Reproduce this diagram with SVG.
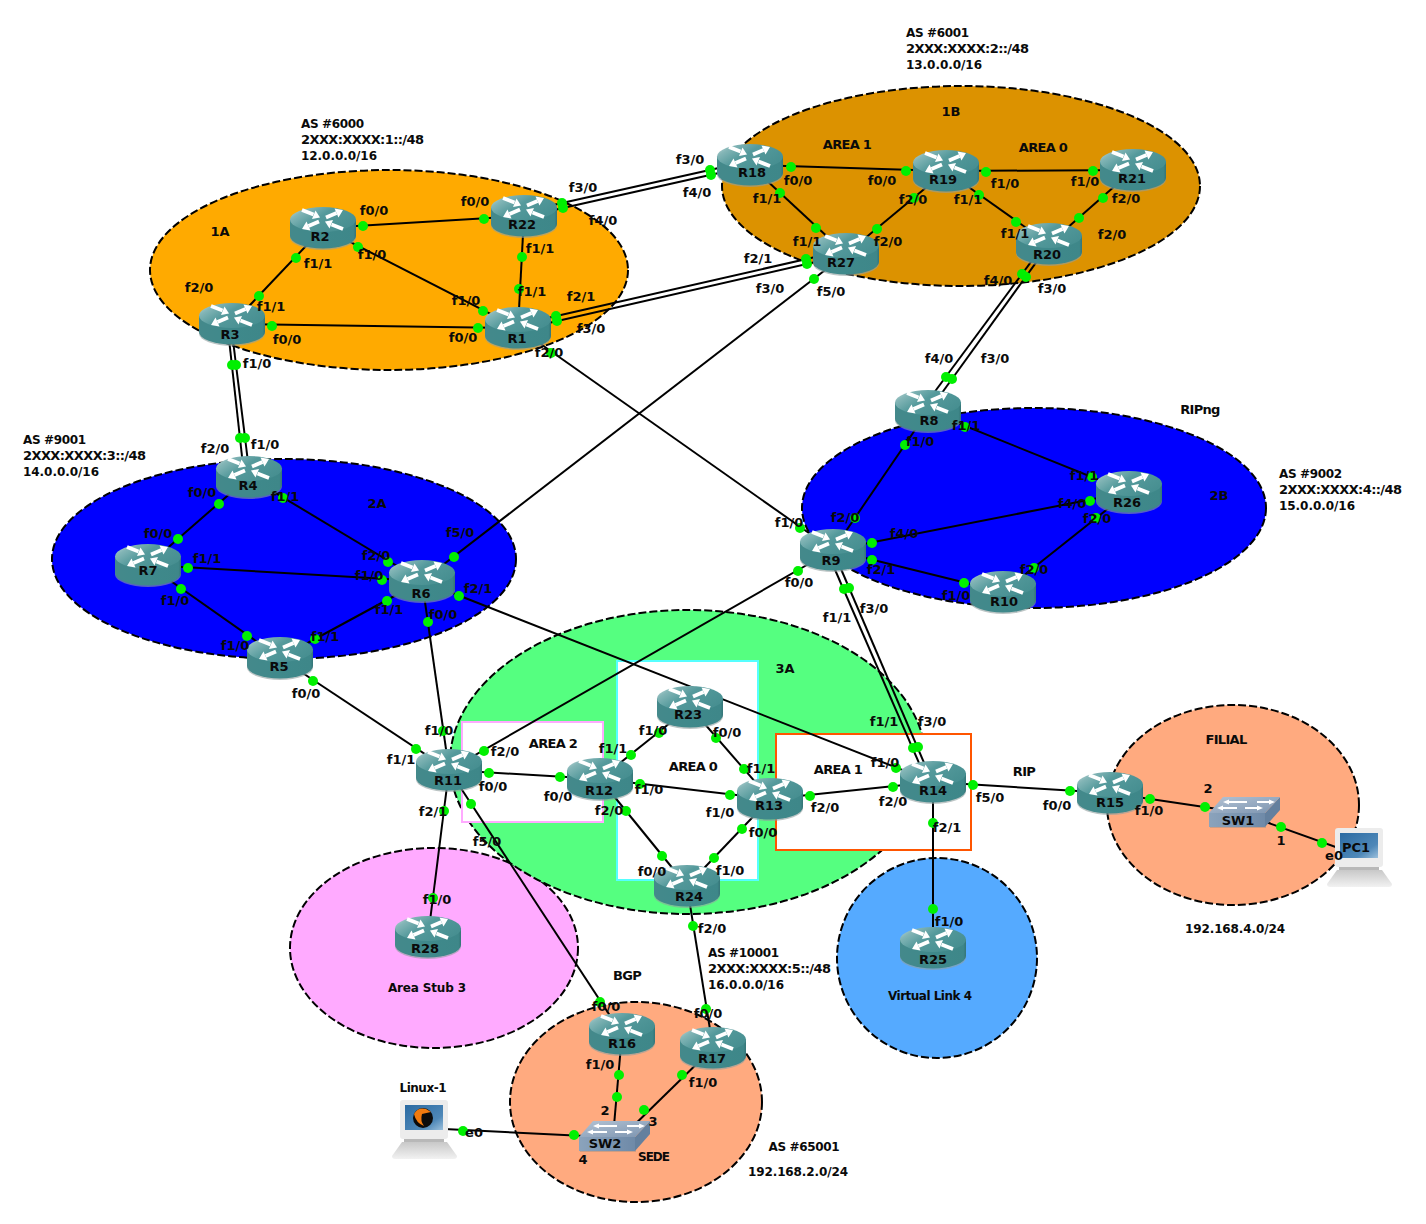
<svg xmlns="http://www.w3.org/2000/svg" xmlns:xlink="http://www.w3.org/1999/xlink" width="1426" height="1224" viewBox="0 0 1426 1224">
<style>
text{font-family:"DejaVu Sans","Liberation Sans",sans-serif;font-weight:700;font-size:13px;fill:#0a0a0a;text-anchor:middle}
text.s{text-anchor:start}
text.m{font-size:12px}
.cap{letter-spacing:-.7px}
.area{stroke:#000;stroke-width:2;stroke-dasharray:8 3}
#links line{stroke:#000;stroke-width:2}
#dots circle{fill:#00f000;stroke:none}
.box{fill:#fff;stroke-width:2}
</style>
<defs>
<linearGradient id="rt" x1="0" y1="0" x2="1" y2=".6"><stop offset="0" stop-color="#c8dede"/><stop offset=".22" stop-color="#83b5b6"/><stop offset=".5" stop-color="#559a9c"/><stop offset="1" stop-color="#478f91"/></linearGradient>
<linearGradient id="rb" x1="0" y1="0" x2="1" y2="0"><stop offset="0" stop-color="#44898b"/><stop offset=".5" stop-color="#3f898b"/><stop offset=".96" stop-color="#3e8789"/><stop offset="1" stop-color="#357577"/></linearGradient>
<linearGradient id="st" x1="0" y1="0" x2="1" y2="1"><stop offset="0" stop-color="#b4c3d4"/><stop offset="1" stop-color="#7c94b0"/></linearGradient>
<linearGradient id="sf" x1="0" y1="0" x2="1" y2="0"><stop offset="0" stop-color="#8ba3bc"/><stop offset="1" stop-color="#6f8aa8"/></linearGradient>
<linearGradient id="scr" x1="0" y1="0" x2="1" y2="1"><stop offset="0" stop-color="#2a6aa2"/><stop offset=".7" stop-color="#4f88b8"/><stop offset="1" stop-color="#9cc0dc"/></linearGradient>
<linearGradient id="kb" x1="0" y1="0" x2="0" y2="1"><stop offset="0" stop-color="#c8c8c8"/><stop offset="1" stop-color="#f2f2f2"/></linearGradient>
<g id="router">
<path d="M0,14V30.500A33,12.500 0 0 0 66,30.500V14Z" fill="#8f9f9f" opacity=".6"/>
<path d="M0,12.500V29A33,12.500 0 0 0 66,29V12.500Z" fill="url(#rb)"/>
<ellipse cx="33" cy="12.500" rx="33" ry="12.500" fill="url(#rt)"/>
<g fill="#fff" stroke="#fff">
<path d="M36,10.500L46.500,6" stroke-width="3.800"/><path d="M53,3L48.500,10.500L44.500,1.500Z" stroke="none"/>
<path d="M29,14.500L18.500,19" stroke-width="3.800"/><path d="M12,22L16.500,14.500L20.500,23.500Z" stroke="none"/>
<path d="M12,3L23.500,7.500" stroke-width="3.800"/><path d="M30,10.500L22,12L25.500,3.500Z" stroke="none"/>
<path d="M53,22L41.500,17.500" stroke-width="3.800"/><path d="M35,14.500L43,13L39.500,21.500Z" stroke="none"/>
</g>
</g>
<g id="switch">
<path d="M1,18H57V31H1Z" fill="#a08f85" opacity=".5"/>
<path d="M0,16H56V30H0Z" fill="url(#sf)"/>
<path d="M56,16L71,0V13L56,30Z" fill="#64809e"/>
<path d="M0,16L14,0H71L56,16Z" fill="url(#st)"/>
<g stroke="#fff" stroke-width="1.800" fill="#fff">
<path d="M18,5H38M48,5H62" fill="none"/><path d="M12,11H28M36,11H50" fill="none"/>
<path d="M14,5L20,2.500V7.500Z" stroke="none"/><path d="M66,5L60,2.500V7.500Z" stroke="none"/>
<path d="M8,11L14,8.500V13.500Z" stroke="none"/><path d="M54,11L48,8.500V13.500Z" stroke="none"/>
</g>
</g>
<g id="computer">
<rect x="8" y="0" width="48" height="39" rx="3" fill="#ececec"/>
<rect x="13" y="5" width="38" height="25" fill="url(#scr)"/>
<rect x="12" y="39" width="40" height="3" fill="#b8b8b8"/>
<path d="M10,42H55L65,56Q65,59 62,59H3Q0,59 0,56Z" fill="url(#kb)"/>
</g>
</defs>
<rect width="1426" height="1224" fill="#fff"/>
<g id="areas">
<ellipse class="area" cx="389" cy="270" rx="239" ry="100" fill="#ffaa00"/>
<ellipse class="area" cx="961" cy="186" rx="239" ry="100" fill="#dc9200"/>
<ellipse class="area" cx="284" cy="559" rx="232" ry="100" fill="#0000ff"/>
<ellipse class="area" cx="1034" cy="508" rx="232" ry="100" fill="#0000ff"/>
<ellipse class="area" cx="434" cy="948" rx="144" ry="100" fill="#ffaaff"/>
<ellipse class="area" cx="688" cy="762" rx="238" ry="152" fill="#55ff80"/>
<ellipse class="area" cx="937" cy="958" rx="100" ry="100" fill="#55aaff"/>
<ellipse class="area" cx="1233" cy="805" rx="126" ry="100" fill="#ffaa7f"/>
<ellipse class="area" cx="636" cy="1102" rx="126" ry="100" fill="#ffaa7f"/>
<rect class="box" x="462" y="722" width="141" height="100" stroke="#ffaaff"/>
<rect class="box" x="617" y="661" width="141" height="219" stroke="#55ffff"/>
<rect class="box" x="776" y="734" width="195" height="116" stroke="#ff5500"/>
</g>
<g id="links">
<line x1="323" y1="228" x2="524" y2="216"/><line x1="323" y1="228" x2="232" y2="324"/><line x1="323" y1="228" x2="518" y2="328"/><line x1="524" y1="216" x2="518" y2="328"/><line x1="232" y1="324" x2="518" y2="328"/>
<line x1="524" y1="211.500" x2="750" y2="161"/><line x1="524" y1="216.700" x2="750" y2="166"/>
<line x1="518" y1="324.700" x2="846" y2="250"/><line x1="518" y1="330" x2="846" y2="255"/>
<line x1="228" y1="330" x2="243.500" y2="470"/><line x1="231.700" y1="330" x2="249" y2="470"/>
<line x1="1045" y1="243" x2="919" y2="413"/><line x1="1048" y1="246" x2="926" y2="415"/>
<line x1="826" y1="549" x2="926.400" y2="780"/><line x1="832" y1="548" x2="931" y2="779"/>
<line x1="518" y1="328" x2="833" y2="550"/><line x1="846" y1="254" x2="422" y2="581"/>
<line x1="750" y1="165" x2="946" y2="171"/><line x1="946" y1="171" x2="1133" y2="170"/><line x1="750" y1="165" x2="846" y2="254"/><line x1="946" y1="171" x2="846" y2="254"/><line x1="946" y1="171" x2="1049" y2="244"/><line x1="1133" y1="170" x2="1049" y2="244"/>
<line x1="249" y1="477" x2="148" y2="565"/><line x1="249" y1="477" x2="422" y2="581"/><line x1="148" y1="565" x2="422" y2="581"/><line x1="148" y1="565" x2="280" y2="658"/><line x1="280" y1="658" x2="422" y2="581"/>
<line x1="422" y1="581" x2="449" y2="770"/><line x1="422" y1="581" x2="933" y2="782"/><line x1="280" y1="658" x2="449" y2="770"/><line x1="833" y1="550" x2="449" y2="770"/>
<line x1="449" y1="770" x2="600" y2="779"/><line x1="449" y1="770" x2="428" y2="937"/><line x1="449" y1="770" x2="622" y2="1034"/>
<line x1="600" y1="779" x2="690" y2="707"/><line x1="690" y1="707" x2="770" y2="799"/><line x1="600" y1="779" x2="770" y2="799"/><line x1="600" y1="779" x2="687" y2="886"/><line x1="687" y1="886" x2="770" y2="799"/><line x1="687" y1="886" x2="713" y2="1048"/>
<line x1="770" y1="799" x2="933" y2="782"/><line x1="933" y1="782" x2="1110" y2="793"/><line x1="933" y1="782" x2="933" y2="948"/><line x1="1110" y1="793" x2="1238" y2="812"/><line x1="1238" y1="812" x2="1358" y2="855"/>
<line x1="622" y1="1034" x2="613" y2="1137"/><line x1="713" y1="1048" x2="622" y2="1137"/><line x1="605" y1="1137" x2="424" y2="1128"/>
<line x1="928" y1="411" x2="833" y2="550"/><line x1="928" y1="411" x2="1129" y2="492"/><line x1="1129" y1="492" x2="833" y2="550"/><line x1="833" y1="550" x2="1003" y2="592"/><line x1="1003" y1="592" x2="1129" y2="492"/>
</g>
<g id="nodes">
<g id="R1"><use href="#router" x="485" y="307"/><text x="517" y="343">R1</text></g>
<g id="R2"><use href="#router" x="290" y="207"/><text x="320" y="241">R2</text></g>
<g id="R3"><use href="#router" x="199" y="303"/><text x="230" y="339">R3</text></g>
<g id="R4"><use href="#router" x="216" y="456"/><text x="248" y="490">R4</text></g>
<g id="R5"><use href="#router" x="247" y="637"/><text x="279" y="671">R5</text></g>
<g id="R6"><use href="#router" x="389" y="560"/><text x="421" y="598">R6</text></g>
<g id="R7"><use href="#router" x="115" y="544"/><text x="148" y="575">R7</text></g>
<g id="R8"><use href="#router" x="895" y="390"/><text x="929" y="425">R8</text></g>
<g id="R9"><use href="#router" x="800" y="529"/><text x="831" y="565">R9</text></g>
<g id="R10"><use href="#router" x="970" y="571"/><text x="1004" y="606">R10</text></g>
<g id="R11"><use href="#router" x="416" y="749"/><text x="448" y="785">R11</text></g>
<g id="R12"><use href="#router" x="567" y="758"/><text x="599" y="795">R12</text></g>
<g id="R13"><use href="#router" x="737" y="778"/><text x="769" y="810">R13</text></g>
<g id="R14"><use href="#router" x="900" y="761"/><text x="933" y="795">R14</text></g>
<g id="R15"><use href="#router" x="1077" y="772"/><text x="1110" y="807">R15</text></g>
<g id="R16"><use href="#router" x="589" y="1013"/><text x="622" y="1048">R16</text></g>
<g id="R17"><use href="#router" x="680" y="1027"/><text x="712" y="1063">R17</text></g>
<g id="R18"><use href="#router" x="717" y="144"/><text x="752" y="177">R18</text></g>
<g id="R19"><use href="#router" x="913" y="150"/><text x="943" y="184">R19</text></g>
<g id="R20"><use href="#router" x="1016" y="223"/><text x="1047" y="259">R20</text></g>
<g id="R21"><use href="#router" x="1100" y="149"/><text x="1132" y="183">R21</text></g>
<g id="R22"><use href="#router" x="491" y="195"/><text x="522" y="229">R22</text></g>
<g id="R23"><use href="#router" x="657" y="686"/><text x="688" y="719">R23</text></g>
<g id="R24"><use href="#router" x="654" y="865"/><text x="689" y="901">R24</text></g>
<g id="R25"><use href="#router" x="900" y="927"/><text x="933" y="964">R25</text></g>
<g id="R26"><use href="#router" x="1096" y="471"/><text x="1127" y="507">R26</text></g>
<g id="R27"><use href="#router" x="813" y="233"/><text x="841" y="267">R27</text></g>
<g id="R28"><use href="#router" x="395" y="916"/><text x="425" y="953">R28</text></g>
<g id="SW1"><use href="#switch" x="1209" y="797"/><text x="1238" y="825">SW1</text></g>
<g id="SW2"><use href="#switch" x="579" y="1121"/><text x="605" y="1148">SW2</text></g>
<g id="PC1"><use href="#computer" x="1327" y="828"/><text x="1356" y="852">PC1</text></g>
<g id="Linux-1"><use href="#computer" x="392" y="1100"/><circle cx="423" cy="1118" r="10" fill="#0c0c0c"/><path d="M414,1114Q418,1107 426,1109L431,1112L422,1114Q420,1121 424,1126Q416,1123 414,1114Z" fill="#f07a10"/></g>
</g>
<g id="dots">
<circle cx="363" cy="226" r="5"/><circle cx="484" cy="219" r="5"/><circle cx="296" cy="258" r="5"/><circle cx="259" cy="296" r="5"/><circle cx="358" cy="247" r="5"/><circle cx="483" cy="311" r="5"/><circle cx="522" cy="257" r="5"/><circle cx="519" cy="289" r="5"/><circle cx="272" cy="326" r="5"/><circle cx="478" cy="328" r="5"/><circle cx="562" cy="203" r="5"/><circle cx="563" cy="208" r="5"/><circle cx="556" cy="316" r="5"/><circle cx="557" cy="321" r="5"/><circle cx="551" cy="353" r="5"/><circle cx="232" cy="365" r="5"/><circle cx="236" cy="365" r="5"/>
<circle cx="710" cy="170" r="5"/><circle cx="711" cy="175" r="5"/><circle cx="791" cy="167" r="5"/><circle cx="906" cy="171" r="5"/><circle cx="986" cy="172" r="5"/><circle cx="1093" cy="171" r="5"/><circle cx="780" cy="193" r="5"/><circle cx="816" cy="228" r="5"/><circle cx="914" cy="198" r="5"/><circle cx="877" cy="229" r="5"/><circle cx="979" cy="195" r="5"/><circle cx="1016" cy="222" r="5"/><circle cx="1103" cy="198" r="5"/><circle cx="1079" cy="218" r="5"/><circle cx="806" cy="259" r="5"/><circle cx="807" cy="264" r="5"/><circle cx="814" cy="279" r="5"/><circle cx="1022" cy="274" r="5"/><circle cx="1026" cy="277" r="5"/>
<circle cx="240" cy="438" r="5"/><circle cx="245" cy="438" r="5"/><circle cx="219" cy="504" r="5"/><circle cx="178" cy="539" r="5"/><circle cx="283" cy="498" r="5"/><circle cx="388" cy="562" r="5"/><circle cx="188" cy="568" r="5"/><circle cx="382" cy="580" r="5"/><circle cx="181" cy="589" r="5"/><circle cx="247" cy="636" r="5"/><circle cx="315" cy="639" r="5"/><circle cx="387" cy="601" r="5"/><circle cx="454" cy="557" r="5"/><circle cx="459" cy="596" r="5"/><circle cx="428" cy="622" r="5"/><circle cx="313" cy="681" r="5"/>
<circle cx="946" cy="377" r="5"/><circle cx="952" cy="379" r="5"/><circle cx="905" cy="445" r="5"/><circle cx="965" cy="427" r="5"/><circle cx="1092" cy="477" r="5"/><circle cx="1090" cy="501" r="5"/><circle cx="1096" cy="518" r="5"/><circle cx="855" cy="518" r="5"/><circle cx="872" cy="543" r="5"/><circle cx="872" cy="560" r="5"/><circle cx="964" cy="583" r="5"/><circle cx="1034" cy="568" r="5"/><circle cx="800" cy="528" r="5"/><circle cx="798" cy="571" r="5"/><circle cx="844" cy="589" r="5"/><circle cx="849" cy="588" r="5"/>
<circle cx="443" cy="731" r="5"/><circle cx="416" cy="749" r="5"/><circle cx="484" cy="751" r="5"/><circle cx="489" cy="773" r="5"/><circle cx="560" cy="777" r="5"/><circle cx="444" cy="811" r="5"/><circle cx="471" cy="804" r="5"/><circle cx="433" cy="898" r="5"/><circle cx="631" cy="755" r="5"/><circle cx="659" cy="733" r="5"/><circle cx="716" cy="738" r="5"/><circle cx="744" cy="769" r="5"/><circle cx="640" cy="784" r="5"/><circle cx="730" cy="795" r="5"/><circle cx="626" cy="811" r="5"/><circle cx="662" cy="856" r="5"/><circle cx="714" cy="858" r="5"/><circle cx="742" cy="829" r="5"/><circle cx="693" cy="926" r="5"/>
<circle cx="913" cy="748" r="5"/><circle cx="918" cy="747" r="5"/><circle cx="896" cy="768" r="5"/><circle cx="893" cy="787" r="5"/><circle cx="810" cy="796" r="5"/><circle cx="973" cy="785" r="5"/><circle cx="1070" cy="791" r="5"/><circle cx="1150" cy="799" r="5"/><circle cx="1205" cy="807" r="5"/><circle cx="1281" cy="827" r="5"/><circle cx="1322" cy="843" r="5"/><circle cx="933" cy="823" r="5"/><circle cx="933" cy="909" r="5"/>
<circle cx="600" cy="1002" r="5"/><circle cx="706" cy="1009" r="5"/><circle cx="619" cy="1075" r="5"/><circle cx="617" cy="1097" r="5"/><circle cx="682" cy="1075" r="5"/><circle cx="644" cy="1110" r="5"/><circle cx="574" cy="1135" r="5"/><circle cx="463" cy="1131" r="5"/>
</g>
<g id="labels">
<text x="583" y="192">f3/0</text><text x="603" y="225">f4/0</text><text x="475" y="206">f0/0</text><text x="374" y="215">f0/0</text><text x="318" y="268">f1/1</text><text x="372" y="259">f1/0</text><text x="540" y="253">f1/1</text><text x="532" y="296">f1/1</text><text x="581" y="301">f2/1</text><text x="591" y="333">f3/0</text><text x="466" y="305">f1/0</text><text x="463" y="342">f0/0</text><text x="287" y="344">f0/0</text><text x="549" y="357">f2/0</text><text x="271" y="311">f1/1</text><text x="199" y="292">f2/0</text><text x="257" y="368">f1/0</text>
<text x="220" y="236">1A</text>
<text x="690" y="164">f3/0</text><text x="697" y="197">f4/0</text><text x="798" y="185">f0/0</text><text x="882" y="185">f0/0</text><text x="1005" y="188">f1/0</text><text x="1085" y="186">f1/0</text><text x="767" y="203">f1/1</text><text x="913" y="204">f2/0</text><text x="968" y="204">f1/1</text><text x="1126" y="203">f2/0</text><text x="807" y="246">f1/1</text><text x="888" y="246">f2/0</text><text x="1015" y="238">f1/1</text><text x="1112" y="239">f2/0</text><text x="758" y="263">f2/1</text><text x="770" y="293">f3/0</text><text x="831" y="296">f5/0</text><text x="998" y="285">f4/0</text><text x="1052" y="293">f3/0</text>
<text class="cap" x="847" y="149">AREA 1</text><text class="cap" x="1043" y="152">AREA 0</text><text x="951" y="116">1B</text>
<text x="215" y="453">f2/0</text><text x="265" y="449">f1/0</text><text x="202" y="497">f0/0</text><text x="285" y="501">f1/1</text><text x="158" y="538">f0/0</text><text x="207" y="563">f1/1</text><text x="175" y="605">f1/0</text><text x="235" y="650">f1/0</text><text x="325" y="641">f1/1</text><text x="376" y="560">f2/0</text><text x="369" y="580">f1/0</text><text x="389" y="614">f1/1</text><text x="460" y="537">f5/0</text><text x="478" y="593">f2/1</text><text x="443" y="619">f0/0</text><text x="306" y="698">f0/0</text>
<text x="377" y="508">2A</text>
<text x="939" y="363">f4/0</text><text x="995" y="363">f3/0</text><text x="966" y="430">f1/1</text><text x="920" y="446">f1/0</text><text x="1084" y="480">f1/1</text><text x="1072" y="508">f4/0</text><text x="1097" y="523">f2/0</text><text x="845" y="522">f2/0</text><text x="789" y="527">f1/0</text><text x="904" y="538">f4/0</text><text x="881" y="574">f2/1</text><text x="799" y="587">f0/0</text><text x="956" y="600">f1/0</text><text x="1034" y="574">f2/0</text><text x="837" y="622">f1/1</text><text x="874" y="613">f3/0</text>
<text class="cap" x="1200" y="414">RIPng</text><text x="1219" y="500">2B</text>
<text x="439" y="735">f1/0</text><text x="401" y="764">f1/1</text><text x="505" y="756">f2/0</text><text x="493" y="791">f0/0</text><text x="558" y="801">f0/0</text><text x="433" y="816">f2/1</text><text x="487" y="846">f5/0</text><text x="437" y="904">f1/0</text><text x="613" y="753">f1/1</text><text x="653" y="735">f1/0</text><text x="727" y="737">f0/0</text><text x="761" y="773">f1/1</text><text x="649" y="794">f1/0</text><text x="720" y="817">f1/0</text><text x="609" y="815">f2/0</text><text x="763" y="837">f0/0</text><text x="652" y="876">f0/0</text><text x="730" y="875">f1/0</text><text x="712" y="933">f2/0</text><text x="825" y="812">f2/0</text><text x="893" y="806">f2/0</text><text x="885" y="767">f1/0</text><text x="884" y="726">f1/1</text><text x="932" y="726">f3/0</text><text x="947" y="832">f2/1</text><text x="990" y="802">f5/0</text><text x="1057" y="810">f0/0</text><text x="1149" y="815">f1/0</text><text x="949" y="926">f1/0</text>
<text class="cap" x="553" y="748">AREA 2</text><text class="cap" x="693" y="771">AREA 0</text><text class="cap" x="838" y="774">AREA 1</text><text x="785" y="673">3A</text><text class="cap" x="1024" y="776">RIP</text><text class="cap" x="1226" y="744">FILIAL</text><text class="m" x="1235" y="933" textLength="100">192.168.4.0/24</text>
<text x="1208" y="793">2</text><text x="1281" y="845">1</text><text x="1334" y="860">e0</text>
<text class="m" x="427" y="992" textLength="78">Area Stub 3</text><text class="m" x="930" y="1000" textLength="84">Virtual Link 4</text><text class="cap" x="627" y="980">BGP</text>
<text x="606" y="1011">f0/0</text><text x="708" y="1018">f0/0</text><text x="600" y="1069">f1/0</text><text x="703" y="1087">f1/0</text><text x="605" y="1115">2</text><text x="653" y="1126">3</text><text x="583" y="1164">4</text><text class="m" x="654" y="1161" textLength="32">SEDE</text><text x="474" y="1137">e0</text><text class="m" x="423" y="1092" textLength="47">Linux-1</text><text class="m" x="804" y="1151" textLength="71">AS #65001</text><text class="m" x="798" y="1176" textLength="100">192.168.2.0/24</text>
<text class="s m" x="301" y="128" textLength="63">AS #6000</text><text class="s" x="301" y="144" textLength="123">2XXX:XXXX:1::/48</text><text class="s m" x="301" y="160" textLength="76">12.0.0.0/16</text>
<text class="s m" x="906" y="37" textLength="63">AS #6001</text><text class="s" x="906" y="53" textLength="123">2XXX:XXXX:2::/48</text><text class="s m" x="906" y="69" textLength="76">13.0.0.0/16</text>
<text class="s m" x="23" y="444" textLength="63">AS #9001</text><text class="s" x="23" y="460" textLength="123">2XXX:XXXX:3::/48</text><text class="s m" x="23" y="476" textLength="76">14.0.0.0/16</text>
<text class="s m" x="1279" y="478" textLength="63">AS #9002</text><text class="s" x="1279" y="494" textLength="123">2XXX:XXXX:4::/48</text><text class="s m" x="1279" y="510" textLength="76">15.0.0.0/16</text>
<text class="s m" x="708" y="957" textLength="71">AS #10001</text><text class="s" x="708" y="973" textLength="123">2XXX:XXXX:5::/48</text><text class="s m" x="708" y="989" textLength="76">16.0.0.0/16</text>
</g>
</svg>
